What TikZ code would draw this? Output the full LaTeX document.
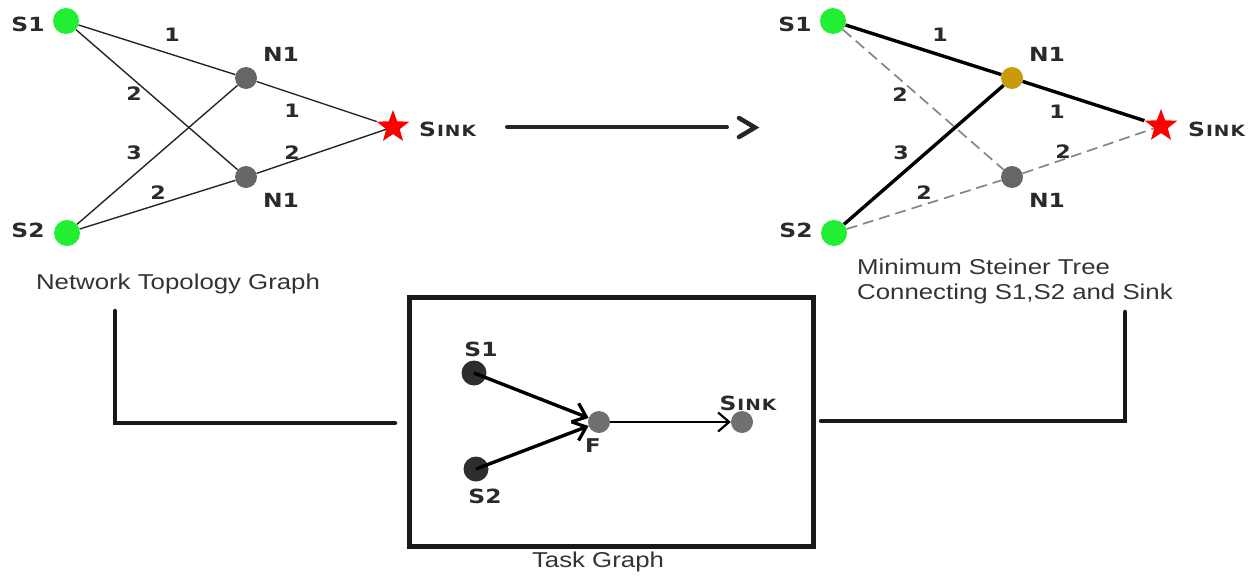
\documentclass[tikz,border=0pt]{standalone}
\usepackage{fontspec}
\usetikzlibrary{shapes.geometric,arrows.meta}
\newfontfamily\lblfont[FakeStretch=1.2]{DejaVu Sans}
\newfontfamily\capfont[FakeStretch=1.2]{Liberation Sans}
\definecolor{srcgreen}{HTML}{22EE33}
\definecolor{relaygrey}{HTML}{666666}
\definecolor{steinergold}{HTML}{C99A0C}
\definecolor{taskdark}{HTML}{2E2E2E}
\definecolor{taskgrey}{HTML}{707070}
\definecolor{labelgrey}{HTML}{2A2A2A}
\definecolor{capgrey}{HTML}{333333}
\definecolor{dashgrey}{HTML}{858585}
\newcommand\sinkword{S\kern1pt{\fontsize{15.5}{15.5}\selectfont I\kern1pt N\kern1pt K}}
\tikzset{
  lbl/.style={font=\lblfont\bfseries\fontsize{19.5}{19.5}\selectfont, text=labelgrey, inner sep=0pt},
  smalllbl/.style={font=\lblfont\bfseries\fontsize{19}{19}\selectfont, text=labelgrey, inner sep=0pt},
  wt/.style={font=\lblfont\bfseries\fontsize{18.5}{18.5}\selectfont, text=labelgrey, inner sep=0pt},
  captext/.style={font=\capfont\fontsize{21.5}{25}\selectfont, text=capgrey, inner sep=0pt},
  src/.style={circle, fill=srcgreen, minimum size=26pt, inner sep=0pt},
  relay/.style={circle, fill=relaygrey, minimum size=22pt, inner sep=0pt},
  sinkstar/.style={star, star points=5, star point ratio=2.4, fill=red, minimum size=34pt, inner sep=0pt},
  thinedge/.style={draw=black!85, line width=1.4pt},
  treeedge/.style={draw=black, line width=3.4pt},
  unused/.style={draw=dashgrey, line width=1.7pt, dash pattern=on 11pt off 6pt},
  bracket/.style={draw=black!90, line width=4.5pt, line cap=round, line join=miter},
  taskarrow/.style={draw=black, line width=3.4pt, -{Straight Barb[length=12pt, width=20pt, line width=3.2pt]}},
  taskarrowthin/.style={draw=black, line width=2.2pt, -{Straight Barb[length=11pt, width=19pt, line width=2.2pt]}},
}
\begin{document}
\begin{tikzpicture}[x=1pt, y=-1pt]
\useasboundingbox (0,0) rectangle (1256,576);

% ---------- network topology graph ----------
\node[src] (ls1) at (66,21) {};
\node[src] (ls2) at (67,233) {};
\node[relay] (ln1) at (246,78) {};
\node[relay] (ln2) at (246,177) {};
\node[sinkstar] (lsk) at (393,127) {};
\draw[thinedge] (ls1) -- (ln1);
\draw[thinedge] (ls1) -- (ln2);
\draw[thinedge] (ls2) -- (ln1);
\draw[thinedge] (ls2) -- (ln2);
\draw[thinedge] (ln1) -- (lsk);
\draw[thinedge] (ln2) -- (lsk);
\node[lbl] (ls1t) at (28,24) {S1};
\node[lbl] (ls2t) at (28,230) {S2};
\node[lbl] (ln1t) at (281,54) {N1};
\node[lbl] (ln2t) at (281,200) {N1};
\node[lbl, anchor=west] (lskt) at (419,129) {\sinkword};
\node[wt] (lw1) at (172,35) {1};
\node[wt] (lw2) at (134,94) {2};
\node[wt] (lw3) at (292,111) {1};
\node[wt] (lw4) at (134,153) {3};
\node[wt] (lw5) at (292,153) {2};
\node[wt] (lw6) at (158,193) {2};
\node[captext] (lcap) at (178,284) {Network Topology Graph};

% ---------- transformation arrow ----------
\coordinate (ma) at (507,127);
\coordinate (mb) at (727,127);
\draw[line width=4pt, draw=black!85, line cap=round] (ma) -- (mb);
\draw[line width=4.5pt, draw=black!85, line cap=round, line join=miter] (739,118) -- (755,127.5) -- (739,137);

% ---------- minimum Steiner tree ----------
\node[src] (rs1) at (833,21) {};
\node[src] (rs2) at (834,233) {};
\node[circle, fill=steinergold, minimum size=22pt, inner sep=0pt] (rn1) at (1012,78) {};
\node[relay] (rn2) at (1012,177) {};
\node[sinkstar] (rsk) at (1161,126) {};
\draw[unused] (rs1) -- (rn2);
\draw[unused] (rs2) -- (rn2);
\draw[unused] (rn2) -- (rsk);
\draw[treeedge] (rs1) -- (rn1);
\draw[treeedge] (rs2) -- (rn1);
\draw[treeedge] (rn1) -- (rsk);
\node[lbl] (rs1t) at (795,24) {S1};
\node[lbl] (rs2t) at (796,230) {S2};
\node[lbl] (rn1t) at (1047,54) {N1};
\node[lbl] (rn2t) at (1047,200) {N1};
\node[lbl, anchor=west] (rskt) at (1188,129) {\sinkword};
\node[wt] (rw1) at (940,35) {1};
\node[wt] (rw2) at (900,95) {2};
\node[wt] (rw3) at (1057,112) {1};
\node[wt] (rw4) at (901,153) {3};
\node[wt] (rw5) at (1063,152) {2};
\node[wt] (rw6) at (924,193) {2};
\node[captext, anchor=west, align=left] (rcap) at (857,281) {Minimum Steiner Tree\\Connecting S1,S2 and Sink};

% ---------- task graph ----------
\node[draw=black!90, line width=5pt, minimum width=404pt, minimum height=249pt, inner sep=0pt] (tbox) at (611,421.5) {};
\coordinate (lb0) at (115,311);
\coordinate (lb1) at (395,423);
\coordinate (rb0) at (1125,312);
\coordinate (rb1) at (821,421);
\draw[bracket] (lb0) |- (lb1);
\draw[bracket] (rb0) |- (rb1);

\node[circle, fill=taskdark, minimum size=25pt, inner sep=0pt] (ts1) at (474,373) {};
\node[circle, fill=taskdark, minimum size=25pt, inner sep=0pt] (ts2) at (476,469) {};
\node[circle, fill=taskgrey, minimum size=22pt, inner sep=0pt] (tf) at (599,422) {};
\node[circle, fill=taskgrey, minimum size=22pt, inner sep=0pt] (tsk) at (742,422) {};
\draw[taskarrow] (ts1.center) -- (tf);
\draw[taskarrow] (ts2.center) -- (tf);
\draw[taskarrowthin] (tf) -- (tsk);
\node[lbl] (ts1t) at (481,349) {S1};
\node[lbl] (ts2t) at (485,496) {S2};
\node[smalllbl] (tft) at (593,446) {F};
\node[lbl] (tskt) at (748,403) {\sinkword};
\node[captext] (tcap) at (598,562) {Task Graph};
\end{tikzpicture}
\end{document}
